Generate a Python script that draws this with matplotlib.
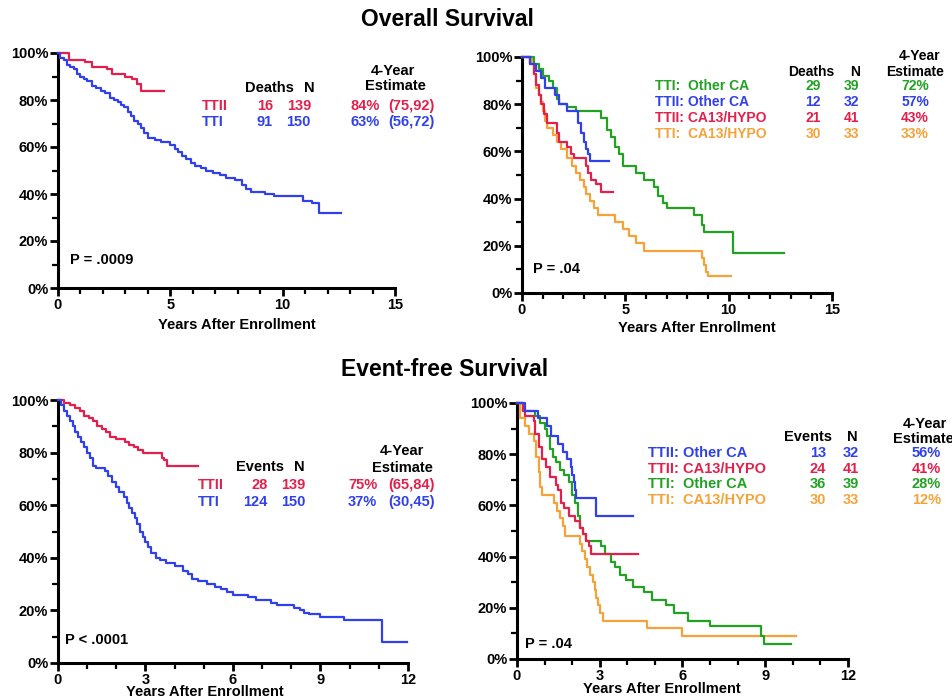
import matplotlib
matplotlib.use("Agg")
import matplotlib.pyplot as plt
from matplotlib.ticker import MultipleLocator, FixedLocator

plt.rcParams['font.family'] = ['Liberation Sans', 'DejaVu Sans']
plt.rcParams['font.weight'] = 'bold'

RED = '#e3204c'
BLUE = '#3040ec'
GREEN = '#23a123'
ORANGE = '#f5a238'

# ---- Overall survival, TTII vs TTI ----
os_ttii_t = [0, 0.5, 1.2, 1.5, 2.2, 2.4, 3.0, 3.3, 3.5, 3.7, 4.7]
os_ttii_s = [100, 97, 96, 94, 93, 91, 90, 89, 87, 84, 84]
os_tti_t = [0, 0.1, 0.25, 0.4, 0.55, 0.7, 0.85, 1.0, 1.15, 1.3,
            1.5, 1.7, 1.9, 2.1, 2.3, 2.5, 2.65, 2.8, 2.95, 3.1,
            3.25, 3.4, 3.55, 3.7, 3.85, 4.0, 4.3, 4.6, 5.0, 5.2,
            5.35, 5.5, 5.7, 5.9, 6.1, 6.35, 6.6, 6.9, 7.2, 7.5,
            7.9, 8.2, 8.35, 8.6, 9.2, 9.6, 10.9, 11.3, 11.6, 12.6]
os_tti_s = [100, 98, 97, 95, 94, 93, 91, 90, 89, 88,
            86, 85, 84, 83, 81, 80, 79, 78, 77, 75,
            73, 71, 70, 68, 66, 64, 63, 62, 61, 59,
            58, 56, 55, 53, 52, 51, 50, 49, 48, 47,
            46, 44, 42, 41, 40, 39, 37, 36, 32, 32]

# ---- Overall survival by subgroup ----
os_tti_oth_t = [0, 0.6, 0.8, 1.0, 1.3, 1.5, 1.7, 1.8, 2.2, 2.6, 3.8, 4.1, 4.3, 4.5,
                4.7, 4.9, 5.5, 5.9, 6.4, 6.6, 6.8, 7.0, 8.3, 8.7, 8.8, 10.2, 12.7]
os_tti_oth_s = [100, 97, 95, 92, 90, 87, 82, 80, 79, 77, 74, 69, 66, 62,
                59, 54, 51, 48, 45, 41, 38, 36, 33, 29, 26, 17, 17]
os_ttii_oth_t = [0, 0.4, 0.7, 0.9, 1.1, 1.6, 1.8, 2.2, 2.7, 2.85, 3.0, 3.1, 3.2, 3.3, 4.2]
os_ttii_oth_s = [100, 97, 94, 91, 87, 84, 80, 77, 72, 68, 64, 61, 59, 56, 56]
os_ttii_ca_t = [0, 0.4, 0.6, 0.7, 0.8, 0.9, 1.05, 1.2, 1.7, 1.8, 2.2, 2.35, 2.5,
                3.1, 3.2, 3.35, 3.6, 3.8, 4.4]
os_ttii_ca_s = [100, 97, 93, 88, 84, 80, 76, 72, 68, 64, 62, 59, 57,
                54, 51, 48, 46, 43, 43]
os_tti_ca_t = [0, 0.5, 0.6, 0.7, 0.8, 0.9, 1.0, 1.1, 1.2, 1.5, 1.7, 1.9, 2.2, 2.4,
               2.6, 2.8, 3.0, 3.1, 3.3, 3.5, 3.7, 4.5, 4.9, 5.2, 5.5, 5.9, 8.7,
               8.8, 8.9, 9.0, 10.1]
os_tti_ca_s = [100, 97, 93, 87, 84, 81, 77, 73, 70, 67, 64, 61, 57, 54,
               51, 48, 45, 42, 39, 36, 33, 30, 27, 24, 21, 18, 15,
               12, 9, 7, 7]

# ---- Event-free survival, TTII vs TTI ----
efs_ttii_t = [0, 0.2, 0.4, 0.6, 0.75, 0.9, 1.05, 1.2, 1.35, 1.5, 1.65, 1.8, 2.0,
              2.3, 2.45, 2.6, 2.75, 2.9, 3.55, 3.65, 3.75, 4.8]
efs_ttii_s = [100, 99, 98, 97, 96, 94, 93, 92, 90, 89, 88, 86, 85,
              84, 83, 82, 81, 80, 78, 77, 75, 75]
efs_tti_t = [0, 0.1, 0.2, 0.3, 0.4, 0.5, 0.6, 0.7, 0.8, 0.9, 1.0, 1.1, 1.2, 1.3,
             1.6, 1.7, 1.85, 2.0, 2.1, 2.25, 2.35, 2.45, 2.55, 2.65, 2.72, 2.8,
             2.9, 3.0, 3.1, 3.2, 3.35, 3.5, 3.7, 4.0, 4.3, 4.45, 4.6, 4.8, 5.1,
             5.4, 5.6, 5.8, 6.0, 6.5, 6.8, 7.3, 7.5, 8.1, 8.3, 8.45, 8.6, 9.0,
             9.8, 11.1, 11.95]
efs_tti_s = [100, 98, 96, 94, 92, 90, 88, 86, 84, 82, 80, 78, 75, 74,
             73, 71, 69, 67, 65, 63, 61, 59, 57, 55, 53, 50,
             48, 46, 44, 42, 40, 39, 38, 37, 35, 34, 32, 31, 30,
             29, 28, 27, 26, 25, 24, 23, 22, 21, 20, 19, 18.5, 17.5,
             16.2, 8, 8]

# ---- Event-free survival by subgroup ----
efs_ttii_oth_t = [0, 0.3, 0.75, 1.1, 1.25, 1.5, 1.65, 1.8, 1.95, 2.0, 2.05, 2.1,
                  2.15, 2.85, 4.2]
efs_ttii_oth_s = [100, 97, 94, 91, 87, 84, 81, 78, 75, 72, 69, 66, 63, 56, 56]
efs_ttii_ca_t = [0, 0.2, 0.3, 0.6, 0.65, 0.8, 0.9, 1.05, 1.2, 1.4, 1.5, 1.6, 1.7,
                 1.9, 2.1, 2.3, 2.4, 2.5, 2.6, 2.7, 4.4]
efs_ttii_ca_s = [100, 97, 95, 93, 88, 83, 78, 75, 71, 68, 66, 61, 59,
                 56, 54, 51, 49, 46, 44, 41, 41]
efs_tti_oth_t = [0, 0.2, 0.65, 0.85, 1.0, 1.1, 1.2, 1.3, 1.4, 1.55, 1.7, 1.9, 2.0,
                 2.1, 2.2, 2.3, 2.4, 2.5, 3.05, 3.2, 3.4, 3.55, 3.75, 3.95, 4.2,
                 4.6, 4.9, 5.4, 5.7, 6.2, 7.0, 8.85, 8.95, 9.95]
efs_tti_oth_s = [100, 97, 95, 92, 90, 87, 82, 79, 77, 74, 72, 69, 64,
                 61, 56, 51, 49, 46, 44, 41, 38, 36, 33, 31, 28,
                 26, 23, 21, 18, 15, 13, 9, 6, 6]
efs_tti_ca_t = [0, 0.1, 0.3, 0.45, 0.6, 0.7, 0.8, 0.85, 0.9, 1.35, 1.45, 1.55,
                1.65, 1.75, 2.3, 2.35, 2.45, 2.55, 2.65, 2.75, 2.82, 2.88, 2.94,
                3.0, 3.1, 4.7, 6.0, 10.1]
efs_tti_ca_s = [100, 94, 91, 88, 85, 79, 73, 67, 64, 61, 58, 55,
                52, 48, 45, 42, 39, 36, 33, 30, 27, 24, 21,
                18, 15, 12, 9, 9]

W, H = 953, 699
fig = plt.figure(figsize=(W / 100, H / 100), dpi=100)


def ftext(x, y, s, color='black', size=10.5, ha='left'):
    # place text by reference-pixel position (from top-left)
    fig.text(x / W, 1 - y / H, s, color=color, fontsize=size, ha=ha, va='center',
             fontweight='bold')


def make_axes(px_left, px_right, px_top, px_bottom, xmax, xmajor):
    ax = fig.add_axes([px_left / W, 1 - px_bottom / H,
                       (px_right - px_left) / W, (px_bottom - px_top) / H])
    ax.set_xlim(0, xmax)
    ax.set_ylim(0, 100)
    for side in ('top', 'right'):
        ax.spines[side].set_visible(False)
    for side in ('left', 'bottom'):
        ax.spines[side].set_linewidth(2.2)
    ax.xaxis.set_major_locator(FixedLocator(xmajor))
    ax.xaxis.set_minor_locator(MultipleLocator(1))
    ax.yaxis.set_minor_locator(MultipleLocator(10))
    ax.set_yticks(range(0, 101, 20))
    ax.set_yticklabels([f'{v}%' for v in range(0, 101, 20)])
    ax.tick_params(which='major', direction='out', length=6, width=2, labelsize=10.5, pad=1)
    ax.tick_params(which='minor', direction='out', length=4, width=1.6)
    for lab in ax.get_xticklabels() + ax.get_yticklabels():
        lab.set_fontweight('bold')
    ax.patch.set_alpha(0)
    return ax


def km(ax, t, s, color):
    assert len(t) == len(s)
    ax.step(t, s, where='post', color=color, lw=1.6, clip_on=False, zorder=3)


# Titles
ftext(447, 19, 'Overall Survival', size=16.5, ha='center')
ftext(445, 370, 'Event-free Survival', size=16.5, ha='center')

# Top-left
ax1 = make_axes(58, 395, 53, 288, 15, [0, 5, 10, 15])
km(ax1, os_ttii_t, os_ttii_s, RED)
km(ax1, os_tti_t, os_tti_s, BLUE)
ftext(237, 325, 'Years After Enrollment', ha='center')
ftext(70, 260, 'P = .0009')
ftext(269, 88, 'Deaths', ha='center')
ftext(309, 88, 'N', ha='center')
ftext(393, 71, '4-Year', ha='center')
ftext(395, 86, 'Estimate', ha='center')
for row_y, lab, d, n, est, ci, col in [(106, 'TTII', '16', '139', '84%', '(75,92)', RED),
                                        (122, 'TTI', '91', '150', '63%', '(56,72)', BLUE)]:
    ftext(202, row_y, lab, col)
    ftext(273, row_y, d, col, ha='right')
    ftext(311, row_y, n, col, ha='right')
    ftext(351, row_y, est, col)
    ftext(388, row_y, ci, col)

# Top-right
ax2 = make_axes(522, 832, 57, 293, 15, [0, 5, 10, 15])
km(ax2, os_tti_ca_t, os_tti_ca_s, ORANGE)
km(ax2, os_tti_oth_t, os_tti_oth_s, GREEN)
km(ax2, os_ttii_ca_t, os_ttii_ca_s, RED)
km(ax2, os_ttii_oth_t, os_ttii_oth_s, BLUE)
ftext(697, 328, 'Years After Enrollment', ha='center')
ftext(533, 269, 'P = .04')
ftext(811, 71.5, 'Deaths', size=10, ha='center')
ftext(855, 71.5, 'N', size=10, ha='center')
ftext(920, 56, '4-Year', size=10, ha='center')
ftext(915, 71.5, 'Estimate', size=10, ha='center')
for row_y, lab, d, n, est, col in [(86, 'TTI:  Other CA', '29', '39', '72%', GREEN),
                                    (102, 'TTII: Other CA', '12', '32', '57%', BLUE),
                                    (118, 'TTII: CA13/HYPO', '21', '41', '43%', RED),
                                    (134, 'TTI:  CA13/HYPO', '30', '33', '33%', ORANGE)]:
    ftext(655, row_y, lab, col, size=10)
    ftext(821, row_y, d, col, size=10, ha='right')
    ftext(859, row_y, n, col, size=10, ha='right')
    ftext(929, row_y, est, col, size=10, ha='right')

# Bottom-left
ax3 = make_axes(58, 408, 400, 663, 12, [0, 3, 6, 9, 12])
km(ax3, efs_ttii_t, efs_ttii_s, RED)
km(ax3, efs_tti_t, efs_tti_s, BLUE)
ftext(205, 692, 'Years After Enrollment', ha='center')
ftext(65, 640, 'P < .0001')
ftext(260, 467, 'Events', ha='center')
ftext(299, 467, 'N', ha='center')
ftext(402, 451, '4-Year', ha='center')
ftext(402, 468, 'Estimate', ha='center')
for row_y, lab, d, n, est, ci, col in [(485, 'TTII', '28', '139', '75%', '(65,84)', RED),
                                        (502, 'TTI', '124', '150', '37%', '(30,45)', BLUE)]:
    ftext(198, row_y, lab, col)
    ftext(268, row_y, d, col, ha='right')
    ftext(305, row_y, n, col, ha='right')
    ftext(348, row_y, est, col)
    ftext(388, row_y, ci, col)

# Bottom-right
ax4 = make_axes(517, 848, 403, 659, 12, [0, 3, 6, 9, 12])
km(ax4, efs_tti_ca_t, efs_tti_ca_s, ORANGE)
km(ax4, efs_tti_oth_t, efs_tti_oth_s, GREEN)
km(ax4, efs_ttii_ca_t, efs_ttii_ca_s, RED)
km(ax4, efs_ttii_oth_t, efs_ttii_oth_s, BLUE)
ftext(662, 689, 'Years After Enrollment', ha='center')
ftext(525, 644, 'P = .04')
ftext(808, 437, 'Events', ha='center')
ftext(852, 437, 'N', ha='center')
ftext(925, 424, '4-Year', ha='center')
ftext(893, 439, 'Estimate')
for row_y, lab, d, n, est, col in [(453, 'TTII: Other CA', '13', '32', '56%', BLUE),
                                    (469, 'TTII: CA13/HYPO', '24', '41', '41%', RED),
                                    (484, 'TTI:  Other CA', '36', '39', '28%', GREEN),
                                    (500, 'TTI:  CA13/HYPO', '30', '33', '12%', ORANGE)]:
    ftext(648, row_y, lab, col)
    ftext(826, row_y, d, col, ha='right')
    ftext(859, row_y, n, col, ha='right')
    ftext(941, row_y, est, col, ha='right')

fig.savefig('out.png', dpi=100)
